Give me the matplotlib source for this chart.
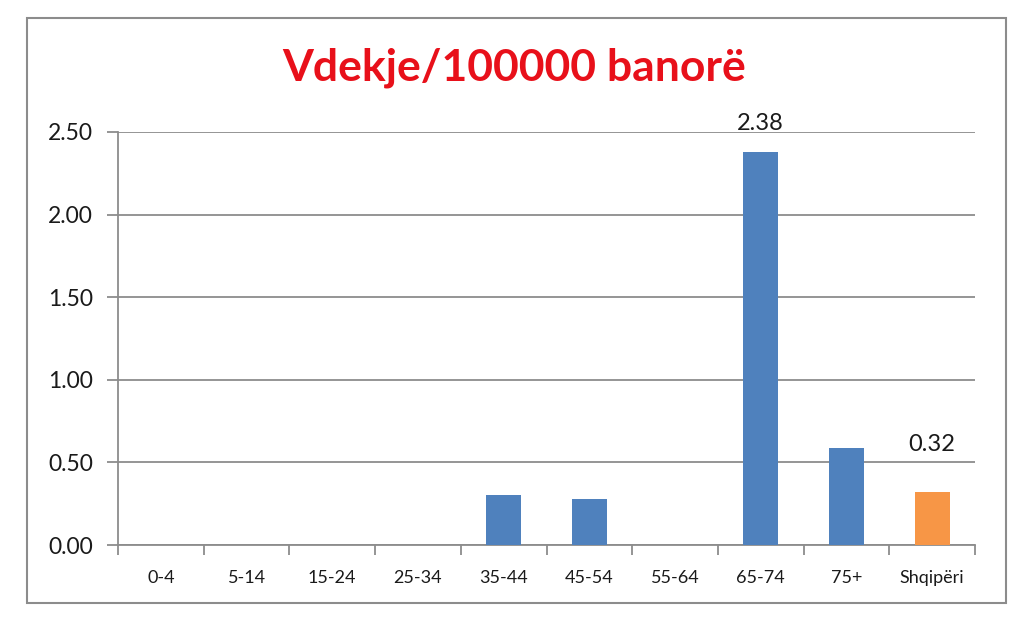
import matplotlib.pyplot as plt
from matplotlib.patches import Rectangle
import numpy as np

# data
categories = ['0-4', '5-14', '15-24', '25-34', '35-44', '45-54', '55-64', '65-74', '75+', 'Shqipëri']
values = [0, 0, 0, 0, 0.30, 0.28, 0, 2.38, 0.59, 0.32]
bar_colors = ['#4F81BD'] * 9 + ['#F79646']
labelled = {7: '2.38', 9: '0.32'}
title = 'Vdekje/100000 banorë'

plt.rcParams['font.family'] = ['Lato', 'DejaVu Sans']

fig = plt.figure(figsize=(10.24, 6.19), dpi=100)
ax = fig.add_axes([118 / 1024, 1 - 545 / 619, (975 - 118) / 1024, (545 - 132) / 619])

x = np.arange(len(categories))
bars = ax.bar(x, values, width=0.41, color=bar_colors, zorder=3)

# only two bars carry a value label, set a bit above the bar
label_gap = {7: 0.17, 9: 0.29}
for i, txt in labelled.items():
    ax.text(x[i], values[i] + label_gap[i], txt, ha='center', va='center', fontsize=17, color='#1a1a1a')

ax.set_xlim(-0.5, len(categories) - 0.5)
ax.set_ylim(0, 2.5)
ax.set_yticks(np.arange(0, 2.51, 0.5))
ax.set_yticklabels(['%.2f' % v for v in np.arange(0, 2.51, 0.5)], fontsize=16.5, color='#1a1a1a')
ax.yaxis.grid(True, color='#8C8C8C', linewidth=1.3, zorder=0)

ax.set_xticks(x)
ax.set_xticklabels(categories, fontsize=13, color='#1a1a1a')
ax.tick_params(axis='x', length=0, pad=18)
ax.set_xticks(np.arange(-0.5, len(categories)), minor=True)
ax.tick_params(axis='x', which='minor', length=7, width=1.3, color='#8C8C8C')
ax.tick_params(axis='y', length=8, width=1.3, color='#8C8C8C', pad=10)

for side in ['top', 'right']:
    ax.spines[side].set_visible(False)
for side in ['left', 'bottom']:
    ax.spines[side].set_color('#8C8C8C')
    ax.spines[side].set_linewidth(1.3)

fig.text(514 / 1024, 1 - 68 / 619, title, ha='center', va='center',
         fontsize=32, fontweight='bold', color='#E8101A')

# outer chart frame
fig.patches.append(Rectangle((27 / 1024, 1 - 603 / 619), (1006 - 27) / 1024, (603 - 18) / 619,
                             transform=fig.transFigure, fill=False, edgecolor='#8C8C8C', linewidth=1.5))

fig.savefig('out.png', dpi=100)
